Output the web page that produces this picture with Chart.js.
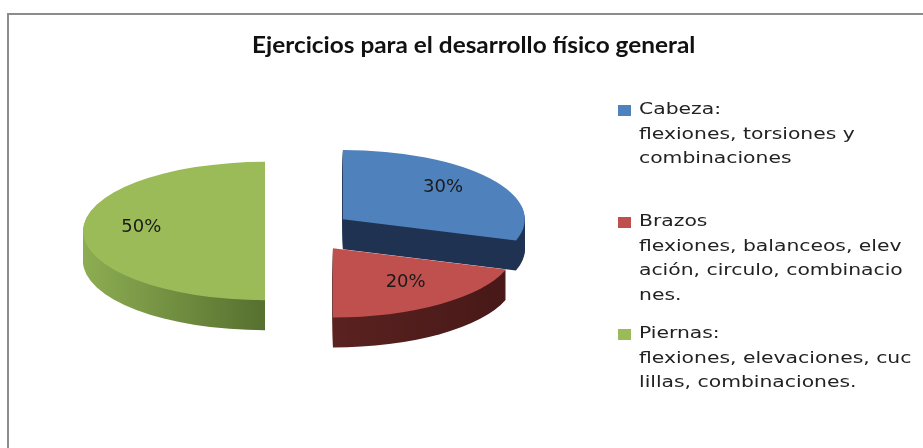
<!DOCTYPE html>
<html>
<head>
<meta charset="utf-8">
<script src="https://cdn.jsdelivr.net/npm/chart.js@4"></script>
<style>
html, body { margin: 0; padding: 0; background: #fff; width: 923px; height: 448px; overflow: hidden; }
#frame { position: absolute; left: 7px; top: 13px; width: 1000px; height: 1000px; border: 2px solid #8c8c8c; }
#chart { position: absolute; left: 0; top: 0; }
#title { position: absolute; left: 252px; top: 31px; font: bold 22px Lato, sans-serif; color: #111;
         white-space: nowrap; transform-origin: left; }
.item { position: absolute; left: 618px; }
.sw { position: absolute; left: 0; top: 6px; width: 13px; height: 11px; }
.ln { position: relative; left: 21px; height: 24.5px; line-height: 24.5px; font: 16px "DejaVu Sans", sans-serif; color: #222;
      transform: scaleX(1.27); transform-origin: left; white-space: nowrap; }
</style>
</head>
<body>
<div id="frame"></div>
<canvas id="chart" width="923" height="448"></canvas>
<div id="title"></div>
<div id="legend"></div>
<script>
// datos
const titleText = "Ejercicios para el desarrollo físico general";
const labels = [
    ["Cabeza:", "flexiones, torsiones y", "combinaciones"],
    ["Brazos", "flexiones, balanceos, elev", "ación, circulo, combinacio", "nes."],
    ["Piernas:", "flexiones, elevaciones, cuc", "lillas, combinaciones."]
];
const values = [30, 20, 50];
const colors = ['#4f81bd', '#c0504d', '#9bbb59'];
const sideColors = [
    ['#1f3252', '#1f3252', '#1f3252'],
    ['#6e2a28', '#5a2220', '#461817'],
    ['#8dad52', '#56702f', '#56702f']
];

// aspecto 3D
const SQUASH = 0.38;
const DEPTH = 30;
const explode = [53, 56, 35];

function squash(ctx, cx, cy) {
    ctx.translate(cx, cy);
    ctx.scale(1, SQUASH);
    ctx.translate(-cx, -cy);
}

function arcGeom(arc, i) {
    const p = arc.getProps(['x', 'y', 'startAngle', 'endAngle', 'outerRadius']);
    const mid = (p.startAngle + p.endAngle) / 2;
    p.mid = mid;
    p.ex = Math.cos(mid) * explode[i];
    p.ey = Math.sin(mid) * explode[i];
    return p;
}

const pie3d = {
    id: 'pie3d',
    beforeDatasetDraw(chart, args) {
        const ctx = chart.ctx;
        const arcs = args.meta.data;

        // caras laterales
        arcs.forEach((arc, i) => {
            const g = arcGeom(arc, i);
            const cx = g.x + g.ex, cy = g.y + g.ey;
            const grad = ctx.createLinearGradient(cx - g.outerRadius, 0, cx + g.outerRadius, 0);
            grad.addColorStop(0, sideColors[i][0]);
            grad.addColorStop(0.5, sideColors[i][1]);
            grad.addColorStop(1, sideColors[i][2]);
            for (let d = DEPTH; d >= 1; d--) {
                ctx.save();
                ctx.translate(0, d);
                squash(ctx, g.x, g.y);
                ctx.beginPath();
                ctx.moveTo(cx, cy);
                ctx.arc(cx, cy, g.outerRadius, g.startAngle, g.endAngle);
                ctx.closePath();
                ctx.fillStyle = grad;
                ctx.fill();
                ctx.restore();
            }
        });

        // cara superior
        arcs.forEach((arc, i) => {
            const g = arcGeom(arc, i);
            ctx.save();
            squash(ctx, g.x, g.y);
            ctx.translate(g.ex, g.ey);
            arc.draw(ctx);
            ctx.restore();
        });
        return false;
    },
    afterDatasetsDraw(chart) {
        const ctx = chart.ctx;
        const total = values.reduce((a, b) => a + b, 0);
        ctx.save();
        ctx.font = '18px "DejaVu Sans"';
        ctx.fillStyle = '#1a1a1a';
        ctx.textAlign = 'center';
        ctx.textBaseline = 'middle';
        chart.getDatasetMeta(0).data.forEach((arc, i) => {
            const g = arcGeom(arc, i);
            const r = explode[i] + 0.68 * g.outerRadius;
            const lx = g.x + Math.cos(g.mid) * r;
            const ly = g.y + Math.sin(g.mid) * r * SQUASH - 4;
            ctx.fillText(Math.round(values[i] / total * 100) + '%', lx, ly);
        });
        ctx.restore();
    }
};

new Chart(document.getElementById('chart').getContext('2d'), {
    type: 'pie',
    data: {
        labels: labels,
        datasets: [{
            data: values,
            backgroundColor: colors,
            borderWidth: 0,
            radius: 182
        }]
    },
    options: {
        responsive: false,
        animation: false,
        events: [],
        layout: { padding: { left: 0, right: 323, top: 14, bottom: 0 } },
        plugins: {
            legend: { display: false },
            tooltip: { enabled: false }
        }
    },
    plugins: [pie3d]
});

// título y leyenda
const titleEl = document.getElementById('title');
titleEl.textContent = titleText;
titleEl.style.transform = 'scaleX(' + (443 / titleEl.scrollWidth) + ')';

const legendEl = document.getElementById('legend');
labels.forEach((lines, i) => {
    const item = document.createElement('div');
    item.className = 'item';
    item.style.top = (99 + 112 * i) + 'px';
    const sw = document.createElement('div');
    sw.className = 'sw';
    sw.style.background = colors[i];
    item.appendChild(sw);
    lines.forEach(t => {
        const ln = document.createElement('div');
        ln.className = 'ln';
        ln.textContent = t;
        item.appendChild(ln);
    });
    legendEl.appendChild(item);
});
</script>
</body>
</html>
